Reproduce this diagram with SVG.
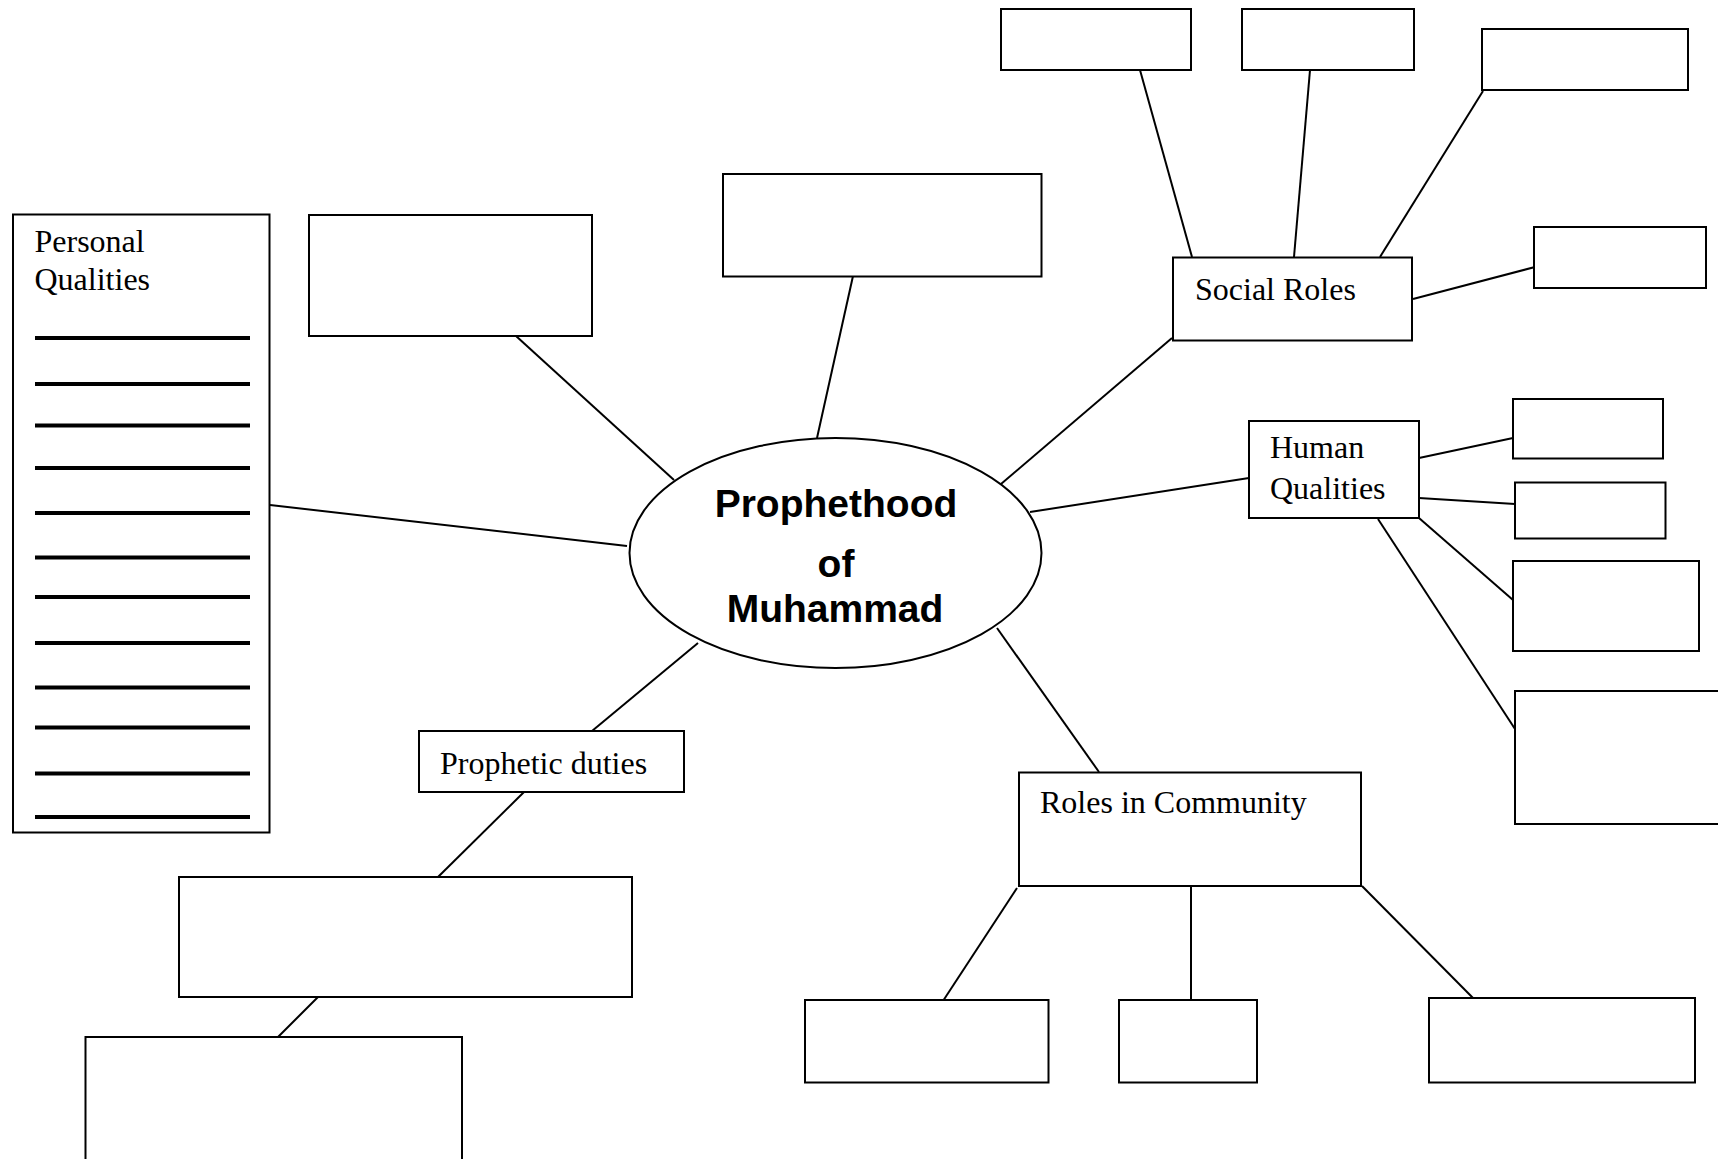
<svg xmlns="http://www.w3.org/2000/svg" width="1718" height="1159" viewBox="0 0 1718 1159">
<style>
.box{fill:#fff;stroke:#000;stroke-width:2}
.c line{stroke:#000;stroke-width:2}
.t{font-family:"Liberation Serif","Times New Roman",serif;font-size:32px;fill:#000}
.h{font-family:"Liberation Sans",Arial,sans-serif;font-size:39px;font-weight:bold;fill:#000}
.rule{stroke:#000;stroke-width:4}
</style>
<rect width="1718" height="1159" fill="#fff"/>
<g id="connectors" class="c">
<line x1="270" y1="505" x2="627" y2="546"/>
<line x1="516" y1="336" x2="674" y2="480"/>
<line x1="853" y1="276" x2="817" y2="438"/>
<line x1="1172" y1="338" x2="1001" y2="484"/>
<line x1="1030" y1="512" x2="1249" y2="478"/>
<line x1="997" y1="628" x2="1099" y2="772"/>
<line x1="698" y1="643" x2="592" y2="731"/>
<line x1="1140" y1="70" x2="1192" y2="257"/>
<line x1="1310" y1="70" x2="1294" y2="257"/>
<line x1="1483" y1="91" x2="1380" y2="257"/>
<line x1="1535" y1="267" x2="1413" y2="299"/>
<line x1="1419" y1="458" x2="1513" y2="438"/>
<line x1="1419" y1="498" x2="1515" y2="504"/>
<line x1="1419" y1="518" x2="1513" y2="600"/>
<line x1="1378" y1="519" x2="1515" y2="729"/>
<line x1="1017" y1="888" x2="941" y2="1004"/>
<line x1="1191" y1="886" x2="1191" y2="1000"/>
<line x1="1362" y1="886" x2="1473" y2="998"/>
<line x1="524" y1="792" x2="438" y2="877"/>
<line x1="318" y1="997" x2="278" y2="1037"/>
</g>
<g id="center">
<ellipse cx="835.5" cy="553" rx="206" ry="115" fill="#fff" stroke="#000" stroke-width="2"/>
<text class="h" x="836" y="517" text-anchor="middle">Prophethood</text>
<text class="h" x="836" y="577" text-anchor="middle">of</text>
<text class="h" x="835" y="622" text-anchor="middle">Muhammad</text>
</g>
<g id="personal-qualities">
<rect class="box" x="13" y="214.5" width="256.5" height="618"/>
<text class="t" x="34.5" y="252">Personal</text>
<text class="t" x="34.5" y="290">Qualities</text>
<line class="rule" x1="35" y1="338" x2="250" y2="338"/>
<line class="rule" x1="35" y1="384" x2="250" y2="384"/>
<line class="rule" x1="35" y1="425.5" x2="250" y2="425.5"/>
<line class="rule" x1="35" y1="468" x2="250" y2="468"/>
<line class="rule" x1="35" y1="513" x2="250" y2="513"/>
<line class="rule" x1="35" y1="557.5" x2="250" y2="557.5"/>
<line class="rule" x1="35" y1="597" x2="250" y2="597"/>
<line class="rule" x1="35" y1="643" x2="250" y2="643"/>
<line class="rule" x1="35" y1="687.5" x2="250" y2="687.5"/>
<line class="rule" x1="35" y1="727.5" x2="250" y2="727.5"/>
<line class="rule" x1="35" y1="773.5" x2="250" y2="773.5"/>
<line class="rule" x1="35" y1="817" x2="250" y2="817"/>
</g>
<g id="box-top-left"><rect class="box" x="309" y="215" width="283" height="121"/></g>
<g id="box-top-center"><rect class="box" x="723" y="174" width="318.5" height="102.5"/></g>
<g id="social-roles">
<rect class="box" x="1173" y="257.5" width="239" height="83"/>
<text class="t" x="1195" y="300">Social Roles</text>
</g>
<g id="sr-1"><rect class="box" x="1001" y="9" width="190" height="61"/></g>
<g id="sr-2"><rect class="box" x="1242" y="9" width="172" height="61"/></g>
<g id="sr-3"><rect class="box" x="1482" y="29" width="206" height="61"/></g>
<g id="sr-4"><rect class="box" x="1534" y="227" width="172" height="61"/></g>
<g id="human-qualities">
<rect class="box" x="1249" y="421" width="170" height="97"/>
<text class="t" x="1270" y="458">Human</text>
<text class="t" x="1270" y="499">Qualities</text>
</g>
<g id="hq-1"><rect class="box" x="1513" y="399" width="150" height="59.5"/></g>
<g id="hq-2"><rect class="box" x="1515" y="482.5" width="150.5" height="56"/></g>
<g id="hq-3"><rect class="box" x="1513" y="561" width="186" height="90"/></g>
<g id="hq-4"><rect class="box" x="1515" y="691" width="220" height="133"/></g>
<g id="roles-in-community">
<rect class="box" x="1019" y="772.5" width="342" height="113.5"/>
<text class="t" x="1040" y="813">Roles in Community</text>
</g>
<g id="rc-1"><rect class="box" x="805" y="1000" width="243.5" height="82.5"/></g>
<g id="rc-2"><rect class="box" x="1119" y="1000" width="138" height="82.5"/></g>
<g id="rc-3"><rect class="box" x="1429" y="998" width="266" height="84.5"/></g>
<g id="prophetic-duties">
<rect class="box" x="419" y="731" width="265" height="61"/>
<text class="t" x="440" y="774">Prophetic duties</text>
</g>
<g id="pd-1"><rect class="box" x="179" y="877" width="453" height="120"/></g>
<g id="pd-2"><rect class="box" x="85.5" y="1037" width="376.5" height="140"/></g>
</svg>
